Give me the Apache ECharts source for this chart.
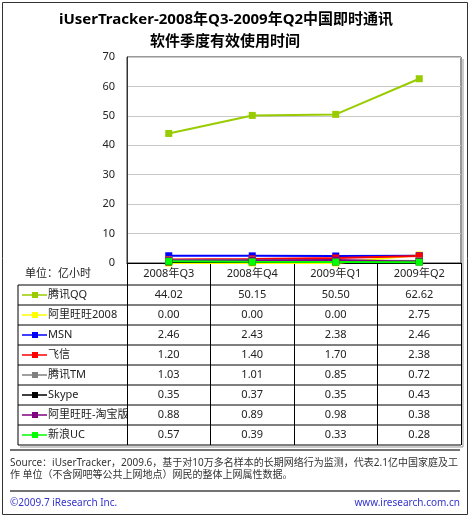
<!DOCTYPE html>
<html>
<head>
<meta charset="utf-8">
<script src="https://cdn.jsdelivr.net/npm/echarts@6/dist/echarts.min.js"></script>
<style>
  html, body { margin: 0; padding: 0; background: #fff; }
  #main { width: 470px; height: 518px; }
</style>
</head>
<body>
<div id="main"></div>
<script>
// 季度
var quarters = ['2008年Q3', '2008年Q4', '2009年Q1', '2009年Q2']
// 软件名称
var names = ['腾讯QQ', '阿里旺旺2008', 'MSN', '飞信', '腾讯TM', 'Skype', '阿里旺旺-淘宝版', '新浪UC']
// 有效使用时间 (亿小时)
var qq = [44.02, 50.15, 50.50, 62.62]
var wangwang2008 = [0.00, 0.00, 0.00, 2.75]
var msn = [2.46, 2.43, 2.38, 2.46]
var fetion = [1.20, 1.40, 1.70, 2.38]
var tm = [1.03, 1.01, 0.85, 0.72]
var skype = [0.35, 0.37, 0.35, 0.43]
var wangwangTaobao = [0.88, 0.89, 0.98, 0.38]
var sinaUC = [0.57, 0.39, 0.33, 0.28]
var yTicks = [0, 10, 20, 30, 40, 50, 60, 70]

var colors = ['#99cc00', '#ffff00', '#0000ff', '#ff0000', '#808080', '#000000', '#800080', '#00ff00']
var allData = [qq, wangwang2008, msn, fetion, tm, skype, wangwangTaobao, sinaUC]

var FONT = '"Noto Sans", "Noto Sans CJK SC", sans-serif'
var gridLeft = 127, gridRight = 461, gridTop = 57, gridBottom = 263
var rowH = 20, tableTop = 285, tableLeft = 18

function buildTable() {
  var els = []
  var colW = (gridRight - gridLeft) / quarters.length
  // 单位
  els.push({ type: 'text', x: 25, y: 274, style: { text: '单位：亿小时', font: '11px ' + FONT, fill: '#222', verticalAlign: 'middle' } })
  // 横线
  for (var i = 0; i <= names.length; i++) {
    els.push({ type: 'line', shape: { x1: tableLeft, y1: tableTop + i * rowH, x2: gridRight, y2: tableTop + i * rowH }, style: { stroke: '#000', lineWidth: 1 } })
  }
  els.push({ type: 'line', shape: { x1: tableLeft, y1: tableTop, x2: tableLeft, y2: tableTop + names.length * rowH }, style: { stroke: '#000', lineWidth: 1 } })
  // 阴影
  els.push({ type: 'line', shape: { x1: gridRight + 2, y1: gridTop + 2, x2: gridRight + 2, y2: tableTop + names.length * rowH + 2 }, style: { stroke: '#999', lineWidth: 1 } })
  els.push({ type: 'line', shape: { x1: tableLeft + 2, y1: tableTop + names.length * rowH + 2, x2: gridRight + 2, y2: tableTop + names.length * rowH + 2 }, style: { stroke: '#999', lineWidth: 1 } })
  names.forEach(function (name, r) {
    var cy = tableTop + r * rowH + rowH / 2
    els.push({ type: 'line', shape: { x1: 22, y1: cy, x2: 47, y2: cy }, style: { stroke: colors[r], lineWidth: 1.5 } })
    els.push({ type: 'rect', shape: { x: 32, y: cy - 3, width: 6, height: 6 }, style: { fill: colors[r] } })
    els.push({ type: 'text', x: 48, y: cy, style: { text: name, font: '11px ' + FONT, fill: '#222', verticalAlign: 'middle' } })
    allData[r].forEach(function (v, c) {
      els.push({ type: 'text', x: gridLeft + colW * (c + 0.5), y: cy, style: { text: v.toFixed(2), font: '11px ' + FONT, fill: '#222', align: 'center', verticalAlign: 'middle' } })
    })
  })
  return els
}

var graphics = [
  { type: 'rect', shape: { x: 2.5, y: 2.5, width: 465, height: 512 }, style: { fill: 'none', stroke: '#333', lineWidth: 1 } },
  { type: 'text', x: 226, y: 20, style: { text: 'iUserTracker-2008年Q3-2009年Q2中国即时通讯', font: 'bold 15px ' + FONT, fill: '#000', align: 'center', verticalAlign: 'middle' } },
  { type: 'text', x: 225, y: 42, style: { text: '软件季度有效使用时间', font: 'bold 15px ' + FONT, fill: '#000', align: 'center', verticalAlign: 'middle' } },
  { type: 'line', shape: { x1: 10, y1: 450, x2: 460, y2: 450 }, style: { stroke: '#444', lineWidth: 1.5 } },
  { type: 'text', x: 10, y: 463, style: { text: 'Source：iUserTracker，2009.6，基于对10万多名样本的长期网络行为监测，代表2.1亿中国家庭及工', font: '10px ' + FONT, fill: '#333', verticalAlign: 'middle' } },
  { type: 'text', x: 10, y: 475, style: { text: '作 单位（不含网吧等公共上网地点）网民的整体上网属性数据。', font: '10px ' + FONT, fill: '#333', verticalAlign: 'middle' } },
  { type: 'line', shape: { x1: 10, y1: 491, x2: 460, y2: 491 }, style: { stroke: '#444', lineWidth: 1.5 } },
  { type: 'text', x: 10, y: 503, style: { text: '©2009.7 iResearch Inc.', font: '10px ' + FONT, fill: '#3333cc', verticalAlign: 'middle' } },
  { type: 'text', x: 460, y: 503, style: { text: 'www.iresearch.com.cn', font: '10px ' + FONT, fill: '#3333cc', align: 'right', verticalAlign: 'middle' } }
].concat(buildTable())

var myChart = echarts.init(document.getElementById('main'))
var option = {
  backgroundColor: '#fff',
  animation: false,
  grid: {
    left: gridLeft,
    right: 470 - gridRight,
    top: gridTop,
    bottom: 518 - gridBottom,
    show: true,
    borderColor: '#333',
    borderWidth: 1
  },
  xAxis: {
    type: 'category',
    data: quarters,
    boundaryGap: true,
    axisLine: { lineStyle: { color: '#000', width: 1 } },
    axisTick: { show: true, interval: 0, length: tableTop + names.length * rowH - gridBottom, lineStyle: { color: '#000' } },
    axisLabel: { margin: 5, color: '#222', fontSize: 11, fontFamily: FONT }
  },
  yAxis: {
    type: 'value',
    min: yTicks[0],
    max: yTicks[yTicks.length - 1],
    interval: 10,
    axisLine: { show: true, lineStyle: { color: '#333' } },
    axisTick: { show: false },
    axisLabel: { margin: 12, color: '#222', fontSize: 11, fontFamily: FONT },
    splitLine: { lineStyle: { color: '#c8c8c8', width: 1 } }
  },
  series: names.map(function (name, i) {
    return {
      name: name,
      type: 'line',
      data: allData[i],
      symbol: 'rect',
      symbolSize: 7,
      showSymbol: true,
      itemStyle: { color: colors[i] },
      lineStyle: { color: colors[i], width: 2 }
    }
  }),
  graphic: graphics
}
myChart.setOption(option)
</script>
</body>
</html>
